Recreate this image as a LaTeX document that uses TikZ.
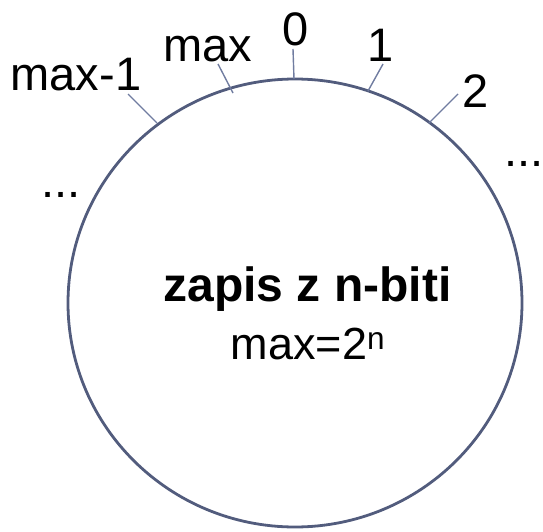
\documentclass[tikz,border=0pt]{standalone}
\usepackage{fontspec}
\setmainfont{Liberation Sans}
\definecolor{ringc}{RGB}{82,92,125}
\definecolor{tickc}{RGB}{112,124,160}
\begin{document}
\begin{tikzpicture}[x=1pt,y=-1pt,
  lbl/.style={anchor=base, inner sep=0pt, font=\fontsize{47}{56}\selectfont},
  tk/.style={draw=tickc, line width=1.4pt},
  ringstyle/.style={draw=ringc, line width=2.8pt}]
\useasboundingbox (0,0) rectangle (543,532);
% ring
\draw[ringstyle] (295,303) ellipse [x radius=227, y radius=224];
% tick end points
\coordinate (t0a) at (293,49);  \coordinate (t0b) at (294,79);
\coordinate (tma) at (218,64);  \coordinate (tmb) at (233,93);
\coordinate (tm1a) at (128,94); \coordinate (tm1b) at (157,123);
\coordinate (t1a) at (383,64);  \coordinate (t1b) at (368,91);
\coordinate (t2a) at (458,94);  \coordinate (t2b) at (429,123);
\draw[tk] (t0a) -- (t0b);
\draw[tk] (tma) -- (tmb);
\draw[tk] (tm1a) -- (tm1b);
\draw[tk] (t1a) -- (t1b);
\draw[tk] (t2a) -- (t2b);
% labels
\node[lbl] (lm1) at (76,91) {max-1};
\node[lbl] (lm) at (208,62) {max};
\node[lbl] (l0) at (295.5,46) {0};
\node[lbl] (l1) at (381,62) {1};
\node[lbl] (l2) at (475.5,107) {2};
\node[lbl, anchor=base west] (rd) at (504,166) {...};
\node[lbl, anchor=base west] (ld) at (41,197) {...};
% centre text
\node[anchor=base, inner sep=0pt, font=\fontsize{48}{56}\selectfont\bfseries] (title) at (307.5,301) {zapis z n-biti};
\node[anchor=base, inner sep=0pt, font=\fontsize{45}{56}\selectfont] (sub) at (308,359) {max=2\textsuperscript{n}};
\end{tikzpicture}
\end{document}
